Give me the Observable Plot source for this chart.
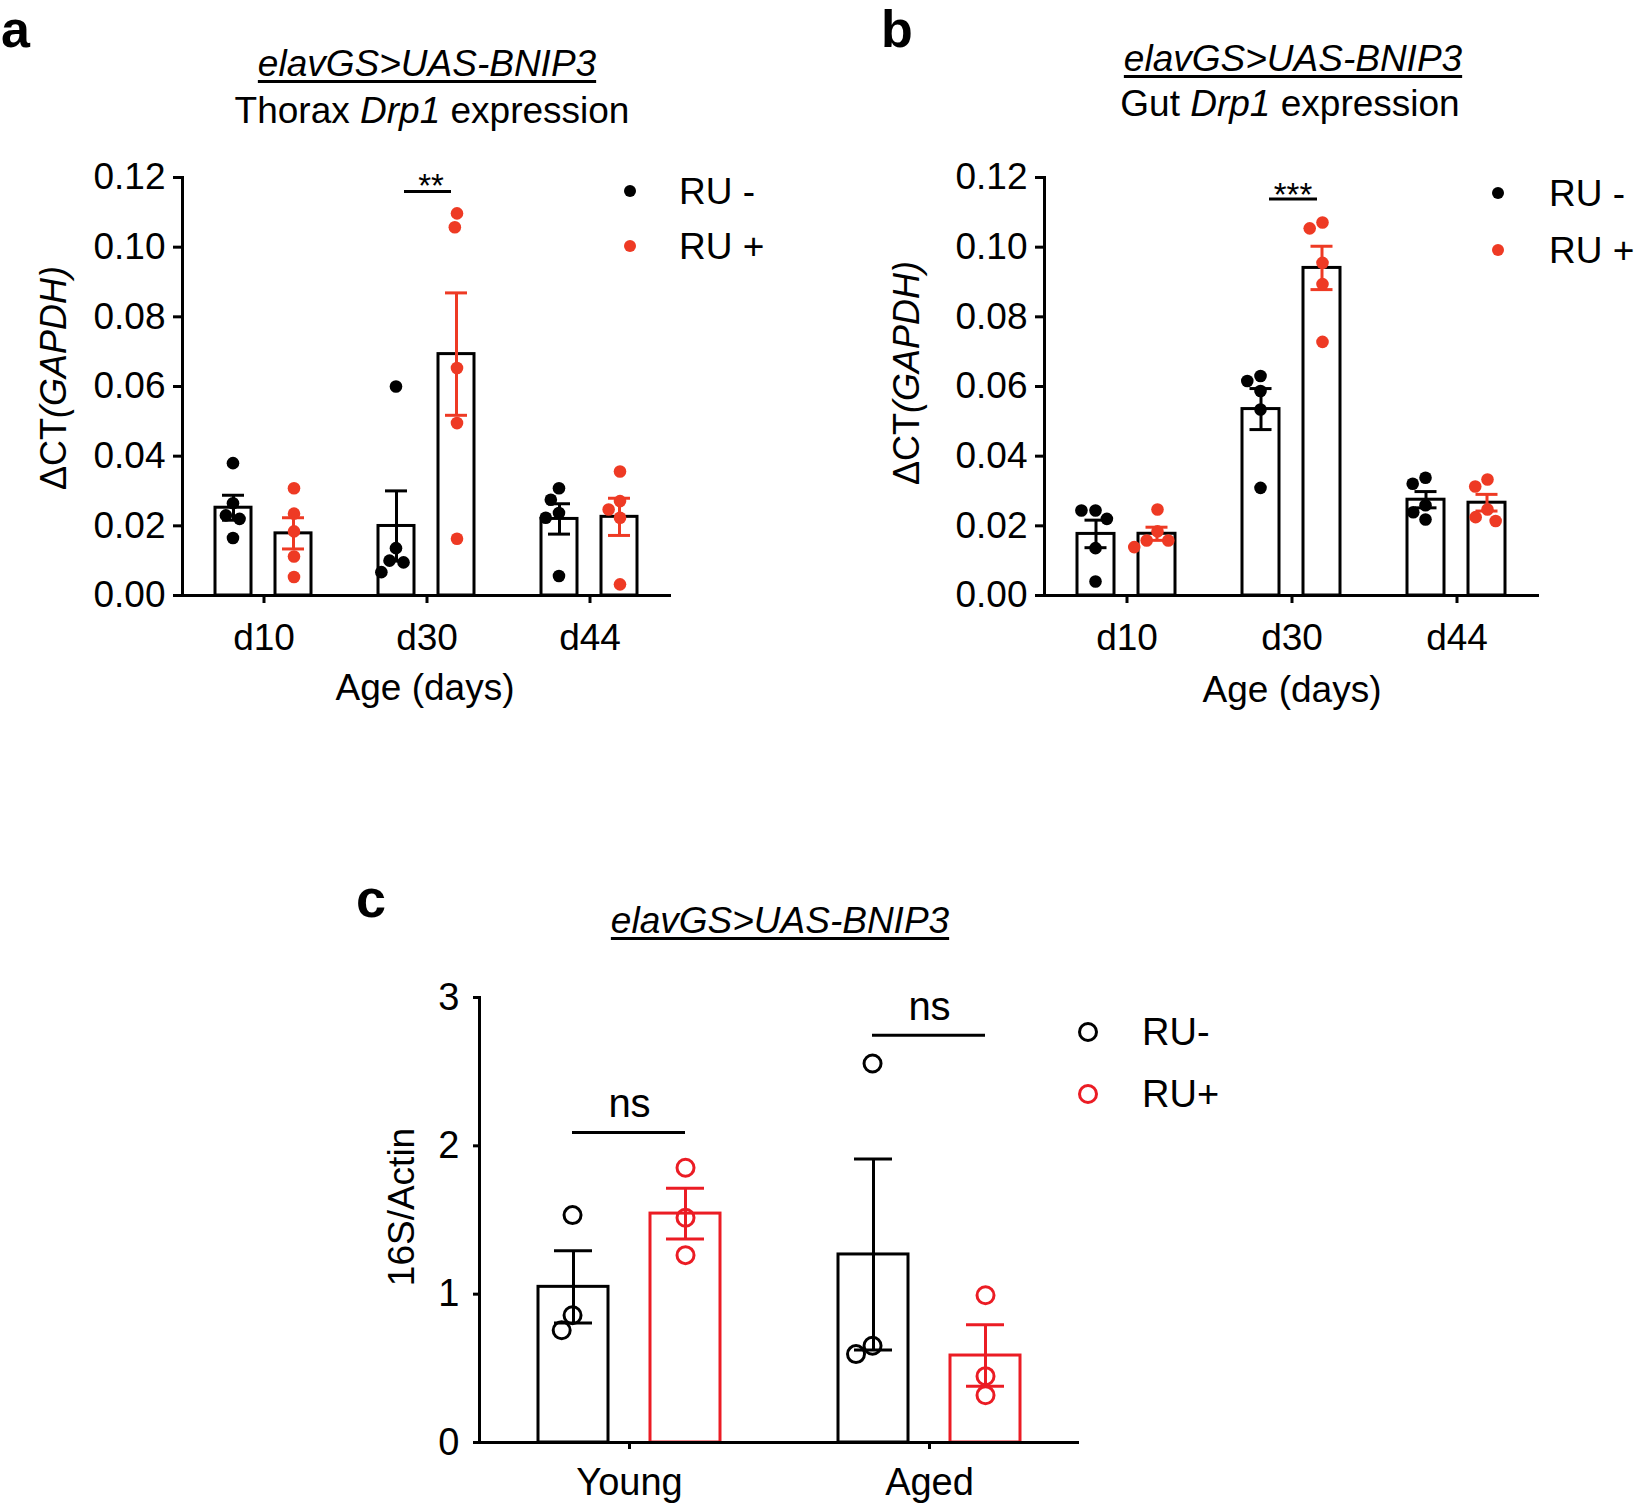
<!DOCTYPE html>
<html>
<head>
<meta charset="utf-8">
<script src="https://cdn.jsdelivr.net/npm/d3@7"></script>
<script src="https://cdn.jsdelivr.net/npm/@observablehq/plot@0.6"></script>
<style>
  html, body { margin: 0; padding: 0; background: #fff; }
  #page { position: relative; width: 1634px; height: 1512px; overflow: hidden; background: #fff;
          font-family: "Liberation Sans", Arial, Helvetica, sans-serif; color: #000; }
  .t { position: absolute; white-space: nowrap; line-height: 1; }
  .chart { position: absolute; }
  .chart svg { overflow: visible; }
</style>
</head>
<body>
<div id="page"></div>
<script>
// ---------------- data ----------------
const ages = ["d10", "d30", "d44"];
const treatments = ["RU-", "RU+"];

// Panel a: Thorax Drp1 expression, ΔCT(GAPDH); one inner array per age
const thoraxMinus = [
  [0.0380, 0.0265, 0.0230, 0.0220, 0.0165],
  [0.0600, 0.0136, 0.0100, 0.0095, 0.0067],
  [0.0308, 0.0275, 0.0237, 0.0223, 0.0056]
];
const thoraxPlus = [
  [0.0308, 0.0235, 0.0184, 0.0112, 0.0053],
  [0.1097, 0.1057, 0.0653, 0.0495, 0.0163],
  [0.0356, 0.0271, 0.0247, 0.0223, 0.0032]
];

// Panel b: Gut Drp1 expression
const gutMinus = [
  [0.0244, 0.0244, 0.0220, 0.0136, 0.0040],
  [0.0630, 0.0616, 0.0587, 0.0534, 0.0309],
  [0.0338, 0.0321, 0.0259, 0.0239, 0.0218]
];
const gutPlus = [
  [0.0247, 0.0184, 0.0158, 0.0158, 0.0139],
  [0.1071, 0.1054, 0.0955, 0.0894, 0.0728],
  [0.0333, 0.0313, 0.0247, 0.0225, 0.0214]
];

// Panel c: 16S/Actin
const lifeStages = ["Young", "Aged"];
const ratioMinus = [
  [1.533, 0.858, 0.757],
  [2.555, 0.652, 0.596]
];
const ratioPlus = [
  [1.852, 1.515, 1.263],
  [0.993, 0.447, 0.319]
];

// significance annotations
const thoraxSig = [{cat: "d30", from: "RU-", to: "RU+", y: 0.1160, text: "**"}];
const gutSig = [{cat: "d30", from: "RU-", to: "RU+", y: 0.1138, text: "***"}];
const ratioSig = [
  {cat: "Young", from: "RU-", to: "RU+", y: 2.09, text: "ns"},
  {cat: "Aged", from: "RU-", to: "RU+", y: 2.745, text: "ns"}
];

const ddctTicks = [0, 0.02, 0.04, 0.06, 0.08, 0.10, 0.12];
const ratioTicks = [0, 1, 2, 3];

// ---------------- helpers ----------------
const FONT = '"Liberation Sans", Arial, Helvetica, sans-serif';
const page = document.getElementById("page");

function tidy(cats, minus, plus) {
  const rows = [];
  cats.forEach((c, i) => {
    minus[i].forEach(v => rows.push({cat: c, treatment: "RU-", value: v}));
    plus[i].forEach(v => rows.push({cat: c, treatment: "RU+", value: v}));
  });
  return rows;
}

function barChart(o) {
  const data = tidy(o.cats, o.minus, o.plus);
  const W = (o.width - o.marginLeft - o.marginRight) / o.cats.length;
  const step = W / (2 - o.pi + 2 * o.po);
  const bw = step * (1 - o.pi);
  const sem = v => d3.deviation(v) / Math.sqrt(v.length);
  const lo = v => d3.mean(v) - sem(v);
  const hi = v => d3.mean(v) + sem(v);
  const common = {fx: "cat", x: "treatment"};
  const marks = [
    Plot.barY(data, Plot.groupX({y: "mean"}, {...common, y: "value", fill: "white", stroke: o.barStroke, strokeWidth: o.sw})),
    Plot.ruleX(data, Plot.groupX({y1: lo, y2: hi}, {...common, y1: "value", y2: "value", stroke: "treatment", strokeWidth: o.sw})),
    Plot.tickY(data, Plot.groupX({y: hi}, {...common, y: "value", stroke: "treatment", strokeWidth: o.sw, insetLeft: o.capInset, insetRight: o.capInset})),
    Plot.tickY(data, Plot.groupX({y: lo}, {...common, y: "value", stroke: "treatment", strokeWidth: o.sw, insetLeft: o.capInset, insetRight: o.capInset}))
  ];
  treatments.forEach((t, k) => {
    const style = o.hollow ? {stroke: "treatment", fill: "none", strokeWidth: o.sw} : {fill: "treatment"};
    // dodged dots, centred on the bar of their treatment (band offset compensated)
    marks.push(Plot.dot(data.filter(d => d.treatment === t),
      Plot.dodgeX({anchor: "middle", padding: o.pad},
        {fx: "cat", y: "value", r: o.r, ...style, dx: (k ? 1 : -1) * step / 2 - bw / 2})));
  });
  marks.push(
    Plot.ruleY(o.sig, {fx: "cat", x1: "from", x2: "to", y: "y", strokeWidth: o.sw, insetLeft: o.sigInsetL, insetRight: o.sigInsetR}),
    Plot.text(o.sig, {fx: "cat", y: "y", text: "text", fontSize: o.sigFont, lineAnchor: "middle", dy: o.sigDy, dx: o.sigDx}),
    Plot.ruleY([0], {strokeWidth: o.sw}),
    Plot.frame({anchor: "left", facetAnchor: "left", strokeWidth: o.sw}),
    Plot.axisY({ticks: o.yTicks, tickFormat: o.yFormat, tickSize: o.ytSize, tickPadding: o.ytPad, fontSize: o.fontSize, strokeWidth: o.sw, label: null}),
    Plot.axisFx({anchor: "bottom", tickSize: o.xtSize, tickPadding: o.xtPad, fontSize: o.fontSize, strokeWidth: o.sw, label: null})
  );
  const svg = Plot.plot({
    width: o.width, height: o.height,
    marginLeft: o.marginLeft, marginRight: o.marginRight, marginTop: o.marginTop, marginBottom: o.marginBottom,
    style: {fontFamily: FONT, fontSize: o.fontSize + "px", background: "transparent", color: "#000"},
    fx: {domain: o.cats, padding: 0},
    x: {domain: treatments, paddingInner: o.pi, paddingOuter: o.po, axis: null},
    y: {domain: o.yDomain},
    color: {domain: treatments, range: o.colors},
    marks
  });
  const holder = document.createElement("div");
  holder.className = "chart";
  holder.style.left = o.left + "px";
  holder.style.top = o.top + "px";
  holder.appendChild(svg);
  page.appendChild(holder);
}

// text with baseline at y
function label(html, {x, y, size, anchor = "start", italic = false, bold = false, underline = false, lh = 1}) {
  const d = document.createElement("div");
  d.className = "t";
  d.innerHTML = html;
  d.style.fontSize = size + "px";
  d.style.lineHeight = String(lh);
  d.style.top = (y - ((lh - 1.117) / 2 + 0.905) * size) + "px";
  d.style.left = x + "px";
  if (anchor === "middle") d.style.transform = "translateX(-50%)";
  if (italic) d.style.fontStyle = "italic";
  if (bold) d.style.fontWeight = "bold";
  if (underline) {
    d.style.textDecoration = "underline";
    d.style.textDecorationThickness = "3px";
    d.style.textUnderlineOffset = "4px";
  }
  page.appendChild(d);
}
// rotated (-90deg) text centred at (cx, cy)
function vlabel(html, {cx, cy, size}) {
  const d = document.createElement("div");
  d.className = "t";
  d.innerHTML = html;
  d.style.fontSize = size + "px";
  d.style.left = cx + "px";
  d.style.top = cy + "px";
  d.style.transform = "translate(-50%,-50%) rotate(-90deg)";
  page.appendChild(d);
}
function legendItem({x, y, r, color, hollow, text, tx, size}) {
  const c = document.createElement("div");
  c.style.position = "absolute";
  c.style.boxSizing = "border-box";
  c.style.borderRadius = "50%";
  if (hollow) {
    const R = r + 1.5;
    c.style.width = c.style.height = 2 * R + "px";
    c.style.left = (x - R) + "px"; c.style.top = (y - R) + "px";
    c.style.border = "3px solid " + color;
  } else {
    c.style.width = c.style.height = 2 * r + "px";
    c.style.left = (x - r) + "px"; c.style.top = (y - r) + "px";
    c.style.background = color;
  }
  page.appendChild(c);
  const d = document.createElement("div");
  d.className = "t";
  d.textContent = text;
  d.style.fontSize = size + "px";
  d.style.left = tx + "px";
  d.style.top = (y - 0.488 * size) + "px";
  page.appendChild(d);
}

const redAB = "#ee3a24";
const redC = "#eb1c24";
const fmt2 = d3.format(".2f");

// ---------------- panel a ----------------
barChart({
  left: 0, top: 150, width: 760, height: 560,
  marginLeft: 181, marginRight: 89, marginTop: 27, marginBottom: 115,
  cats: ages, minus: thoraxMinus, plus: thoraxPlus, sig: thoraxSig,
  yDomain: [0, 0.12], yTicks: ddctTicks, yFormat: fmt2,
  pi: 0.393, po: 0.535, r: 6.3, pad: 1.5, hollow: false, barStroke: "black",
  colors: ["#000000", redAB], sw: 3, capInset: 7,
  sigInsetL: 26, sigInsetR: 23, sigFont: 33, sigDy: -5, sigDx: 4,
  fontSize: 37, ytSize: 9, ytPad: 8, xtSize: 8, xtPad: 20
});

// ---------------- panel b ----------------
barChart({
  left: 860, top: 150, width: 774, height: 560,
  marginLeft: 183, marginRight: 94, marginTop: 27, marginBottom: 115,
  cats: ages, minus: gutMinus, plus: gutPlus, sig: gutSig,
  yDomain: [0, 0.12], yTicks: ddctTicks, yFormat: fmt2,
  pi: 0.387, po: 0.53, r: 6.3, pad: 1.5, hollow: false, barStroke: "black",
  colors: ["#000000", redAB], sw: 3, capInset: 7.5,
  sigInsetL: 27, sigInsetR: 23, sigFont: 33, sigDy: -4, sigDx: 1,
  fontSize: 37, ytSize: 9, ytPad: 8, xtSize: 8, xtPad: 20
});

// ---------------- panel c ----------------
barChart({
  left: 300, top: 957, width: 809, height: 555,
  marginLeft: 178, marginRight: 30, marginTop: 40, marginBottom: 70,
  cats: lifeStages, minus: ratioMinus, plus: ratioPlus, sig: ratioSig,
  yDomain: [0, 3], yTicks: ratioTicks, yFormat: d3.format("d"),
  pi: 0.372, po: 0.516, r: 8.5, pad: 1.5, hollow: true, barStroke: "treatment",
  colors: ["#000000", redC], sw: 3, capInset: 16,
  sigInsetL: 34, sigInsetR: 35, sigFont: 40, sigDy: -28, sigDx: 0,
  fontSize: 38, ytSize: 6, ytPad: 14, xtSize: 7, xtPad: 19
});

// ---------------- titles, labels, legends ----------------
label("a", {x: 1, y: 47.5, size: 52, bold: true, lh: 0.8});
label("b", {x: 881, y: 47.5, size: 52, bold: true, lh: 0.8});
label("c", {x: 356, y: 917, size: 54, bold: true, lh: 0.8});

label("elavGS&gt;UAS-BNIP3", {x: 427, y: 76, size: 37, anchor: "middle", italic: true, underline: true});
label("Thorax <i>Drp1</i> expression", {x: 432, y: 123, size: 37, anchor: "middle"});
label("elavGS&gt;UAS-BNIP3", {x: 1293, y: 71, size: 37, anchor: "middle", italic: true, underline: true});
label("Gut <i>Drp1</i> expression", {x: 1290, y: 116, size: 37, anchor: "middle"});
label("elavGS&gt;UAS-BNIP3", {x: 780, y: 933, size: 37, anchor: "middle", italic: true, underline: true});

label("Age (days)", {x: 425, y: 700, size: 37, anchor: "middle"});
label("Age (days)", {x: 1292, y: 702, size: 37, anchor: "middle"});

vlabel("ΔCT<i>(GAPDH)</i>", {cx: 53.5, cy: 378, size: 36});
vlabel("ΔCT<i>(GAPDH)</i>", {cx: 906.5, cy: 373, size: 36});
vlabel("16S/Actin", {cx: 401, cy: 1207, size: 37});

legendItem({x: 630, y: 191, r: 6.3, color: "#000", text: "RU -", tx: 679, size: 37});
legendItem({x: 630, y: 246, r: 6.3, color: redAB, text: "RU +", tx: 679, size: 37});
legendItem({x: 1498, y: 193, r: 6.3, color: "#000", text: "RU -", tx: 1549, size: 37});
legendItem({x: 1498, y: 250, r: 6.3, color: redAB, text: "RU +", tx: 1549, size: 37});
legendItem({x: 1088, y: 1032, r: 8.5, color: "#000", hollow: true, text: "RU-", tx: 1142, size: 38});
legendItem({x: 1088, y: 1094, r: 8.5, color: redC, hollow: true, text: "RU+", tx: 1142, size: 38});
</script>
</body>
</html>
